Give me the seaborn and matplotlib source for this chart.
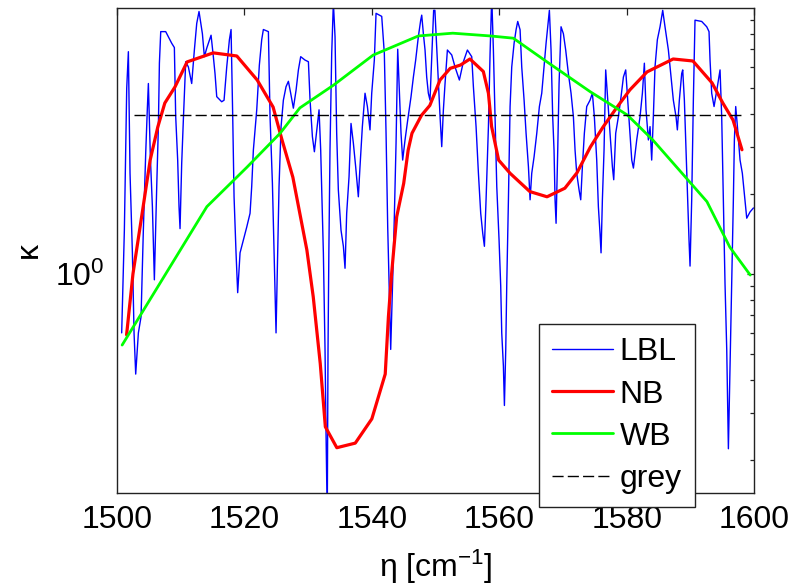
import numpy as np
import pandas as pd
import matplotlib
matplotlib.use("Agg")
import matplotlib.pyplot as plt
import seaborn as sns

# LBL spectrum
lbl_eta = [1500.73, 1501.15, 1501.52, 1501.78, 1502.04, 1502.41, 1502.67, 1502.93, 1503.35, 1503.77,
           1504.13, 1504.50, 1504.76, 1504.92, 1505.23, 1505.55, 1505.86, 1506.23, 1506.49, 1506.65,
           1506.86, 1507.64, 1508.58, 1509.00, 1509.21, 1509.52, 1509.73, 1509.89, 1510.15, 1510.41,
           1510.78, 1511.20, 1511.72, 1512.14, 1512.51, 1512.87, 1513.40, 1513.71, 1514.08, 1514.76,
           1515.12, 1515.38, 1515.65, 1516.43, 1516.80, 1517.22, 1517.64, 1517.90, 1518.16, 1518.37,
           1518.68, 1518.94, 1519.31, 1519.83, 1520.36, 1520.88, 1521.14, 1521.40, 1521.93, 1522.34,
           1522.71, 1522.97, 1523.76, 1524.02, 1524.39, 1524.70, 1524.96, 1525.17, 1525.43, 1525.75,
           1526.11, 1526.53, 1526.90, 1527.26, 1527.68, 1528.10, 1528.47, 1528.83, 1529.51, 1530.04,
           1530.30, 1530.67, 1530.98, 1531.45, 1531.71, 1531.97, 1532.39, 1532.65, 1532.81, 1533.00,
           1533.12, 1533.25, 1533.43, 1533.70, 1533.96, 1534.22, 1534.48, 1534.74, 1535.16, 1535.53,
           1535.79, 1536.05, 1536.42, 1536.73, 1537.10, 1537.46, 1537.88, 1538.14, 1538.51, 1538.93,
           1539.30, 1539.71, 1539.98, 1540.39, 1540.66, 1541.55, 1541.96, 1542.23, 1542.49, 1542.75,
           1542.96, 1543.27, 1543.53, 1543.80, 1544.06, 1544.27, 1544.58, 1544.84, 1545.21, 1545.63,
           1546.15, 1546.52, 1546.88, 1547.30, 1547.67, 1547.83, 1548.09, 1548.35, 1548.61, 1548.87,
           1549.13, 1549.45, 1549.70, 1549.90, 1550.08, 1550.45, 1550.71, 1550.97, 1551.23, 1551.49,
           1551.86, 1552.54, 1553.06, 1553.74, 1554.37, 1555.00, 1555.68, 1555.94, 1556.36, 1556.73,
           1557.09, 1557.41, 1557.67, 1557.93, 1558.30, 1558.56, 1558.82, 1559.08, 1559.34, 1559.61,
           1559.97, 1560.23, 1560.39, 1560.65, 1560.81, 1561.02, 1561.18, 1561.44, 1561.70, 1561.96,
           1562.33, 1562.64, 1562.90, 1563.27, 1563.53, 1563.90, 1564.21, 1564.58, 1564.84, 1565.10,
           1565.47, 1565.89, 1566.30, 1566.67, 1567.03, 1567.35, 1567.61, 1567.87, 1568.13, 1568.39,
           1568.60, 1568.76, 1568.92, 1569.18, 1569.39, 1569.70, 1570.07, 1570.43, 1570.85, 1571.27,
           1571.64, 1571.90, 1572.16, 1572.53, 1572.79, 1573.05, 1573.36, 1573.73, 1574.25, 1574.62,
           1574.93, 1575.30, 1575.56, 1575.82, 1575.98, 1576.19, 1576.45, 1576.71, 1577.03, 1577.39,
           1577.76, 1577.97, 1578.28, 1578.70, 1579.12, 1579.49, 1579.85, 1580.17, 1580.53, 1580.80,
           1581.06, 1581.58, 1582.10, 1582.47, 1582.78, 1583.04, 1583.41, 1583.67, 1583.93, 1584.19,
           1584.45, 1584.82, 1585.24, 1585.66, 1586.02, 1586.55, 1586.91, 1587.33, 1587.75, 1587.96,
           1588.27, 1588.64, 1588.80, 1589.06, 1589.32, 1589.58, 1589.79, 1589.95, 1590.21, 1590.47,
           1590.63, 1590.73, 1591.78, 1592.57, 1592.93, 1593.09, 1593.35, 1593.72, 1594.24, 1594.66,
           1594.92, 1595.18, 1595.44, 1595.71, 1595.97, 1596.23, 1596.49, 1596.75, 1596.91, 1597.12,
           1597.43, 1597.80, 1598.16, 1598.48, 1598.85, 1599.37, 1599.90]
lbl_kappa = [0.60, 1.46, 4.99, 6.85, 2.39, 1.20, 0.60, 0.42, 0.60, 0.69,
             1.46, 2.84, 4.20, 5.20, 2.76, 1.79, 0.95, 2.13, 3.58, 6.20,
             8.15, 8.15, 7.37, 7.10, 3.90, 2.68, 1.79, 1.48, 2.60, 3.79,
             6.28, 6.00, 5.20, 6.95, 8.75, 9.70, 8.00, 6.56, 7.06, 7.90,
             6.56, 5.67, 4.64, 4.44, 4.50, 6.00, 7.60, 8.30, 3.90, 1.95,
             1.20, 0.85, 1.20, 1.34, 1.50, 1.69, 2.13, 2.92, 4.14, 6.10,
             7.60, 8.30, 8.15, 3.90, 2.19, 1.07, 0.60, 1.07, 2.13, 3.58,
             4.50, 5.06, 5.30, 4.78, 4.20, 4.90, 5.85, 6.56, 6.37, 6.28,
             4.50, 3.28, 2.88, 3.63, 4.14, 2.92, 1.20, 0.52, 0.25, 0.12,
             0.52, 1.20, 2.92, 6.75, 10.5, 7.80, 3.38, 2.07, 1.46, 1.27,
             1.05, 1.69, 2.32, 3.68, 3.10, 2.53, 1.95, 2.53, 3.58, 4.78,
             4.26, 3.48, 4.78, 6.37, 9.55, 9.30, 6.75, 3.38, 1.50, 0.85,
             0.52, 0.95, 1.64, 3.10, 7.00, 5.20, 3.38, 2.68, 3.19, 3.79,
             4.64, 5.50, 6.37, 7.80, 9.00, 9.40, 8.00, 6.95, 5.50, 4.78,
             4.50, 7.00, 9.80, 9.80, 8.00, 5.20, 3.90, 3.01, 4.14, 5.20,
             6.95, 6.66, 6.00, 5.36, 6.28, 6.95, 6.56, 5.06, 3.58, 2.39,
             1.69, 1.42, 1.27, 1.90, 3.58, 6.75, 11.0, 6.95, 3.90, 2.13,
             1.34, 0.90, 0.60, 0.45, 0.32, 0.52, 0.92, 1.90, 4.26, 6.00,
             7.37, 8.28, 8.90, 8.28, 6.00, 4.50, 3.38, 2.53, 1.90, 2.39,
             2.76, 3.38, 4.26, 4.78, 6.00, 7.37, 8.50, 9.80, 6.95, 3.90,
             2.92, 1.90, 1.55, 2.92, 5.20, 8.50, 8.00, 6.95, 5.67, 4.78,
             3.90, 2.92, 2.39, 2.07, 1.90, 2.53, 3.38, 4.26, 4.50, 4.78,
             3.90, 2.68, 1.79, 1.42, 1.20, 1.90, 2.92, 5.85, 4.50, 3.38,
             2.53, 2.26, 3.38, 3.90, 4.64, 5.50, 5.85, 4.50, 3.38, 2.68,
             2.50, 3.19, 3.90, 4.78, 6.20, 4.14, 3.19, 3.58, 2.68, 3.90,
             6.00, 7.60, 8.50, 9.80, 8.50, 6.95, 5.67, 4.50, 3.90, 3.48,
             4.50, 5.67, 5.85, 4.50, 2.92, 1.90, 1.34, 1.07, 1.90, 4.50,
             6.95, 9.00, 8.90, 8.50, 8.15, 6.37, 4.78, 4.26, 5.06, 5.85,
             3.90, 1.90, 0.92, 0.52, 0.22, 0.45, 0.92, 1.90, 3.19, 4.26,
             3.48, 2.68, 2.39, 2.00, 1.62, 1.71, 1.77]

# narrow band model
nb_eta = [1501.5, 1502.5, 1504.1, 1505.2, 1506.4, 1507.5, 1509.1, 1511.0, 1515.1, 1518.8,
          1522.0, 1524.5, 1525.9, 1527.6, 1529.8, 1530.8, 1531.9, 1532.7, 1534.5, 1537.4,
          1540.0, 1542.1, 1542.6, 1543.1, 1543.9, 1545.0, 1545.7, 1546.3, 1547.8, 1549.1,
          1550.7, 1552.3, 1553.9, 1555.4, 1557.5, 1558.3, 1558.8, 1559.9, 1561.7, 1564.8,
          1567.5, 1570.3, 1572.2, 1574.3, 1576.3, 1578.5, 1580.5, 1583.2, 1587.3, 1590.4,
          1593.4, 1595.1, 1596.7, 1598.1]
nb_kappa = [0.59, 1.00, 1.79, 2.68, 3.57, 4.39, 5.05, 6.27, 6.78, 6.60,
            5.36, 4.24, 3.19, 2.31, 1.23, 0.82, 0.46, 0.266, 0.222, 0.231,
            0.285, 0.42, 0.69, 1.00, 1.64, 2.19, 2.92, 3.38, 3.95, 4.30,
            5.36, 5.93, 6.10, 6.43, 5.77, 4.78, 3.58, 2.68, 2.39, 2.04,
            1.95, 2.10, 2.40, 3.00, 3.57, 4.24, 4.92, 5.75, 6.43, 6.32,
            5.23, 4.39, 3.79, 2.93]

# wide band model
wb_eta = [1500.8, 1514.1, 1520.4, 1525.6, 1528.7, 1534.0, 1540.2, 1547.3, 1552.7, 1558.6,
          1562.2, 1567.5, 1574.3, 1580.1, 1584.1, 1588.9, 1592.6, 1596.2, 1599.4]
wb_kappa = [0.54, 1.79, 2.52, 3.38, 4.21, 5.13, 6.65, 7.85, 8.04, 7.85,
            7.70, 6.27, 4.84, 3.96, 3.19, 2.36, 1.87, 1.26, 0.99]

# grey gas value
grey_eta = [1502.7, 1598.4]
grey_kappa = [3.95, 3.95]

sns.set_style("white")
plt.rcParams['font.family'] = ['Liberation Sans', 'DejaVu Sans']
plt.rcParams['mathtext.default'] = 'regular'
plt.rcParams['text.color'] = 'black'
plt.rcParams['axes.labelcolor'] = 'black'

fig = plt.figure(figsize=(7.94, 5.88), dpi=100)
ax = fig.add_axes([0.1474, 0.1616, 0.8023, 0.8248])

sns.lineplot(x=lbl_eta, y=lbl_kappa, ax=ax, color='#0000ff', lw=1.0, label='LBL',
             estimator=None, sort=False)
sns.lineplot(x=nb_eta, y=nb_kappa, ax=ax, color='#ff0000', lw=2.3, label='NB',
             estimator=None, sort=False)
sns.lineplot(x=wb_eta, y=wb_kappa, ax=ax, color='#00ff00', lw=2.0, label='WB',
             estimator=None, sort=False)
sns.lineplot(x=grey_eta, y=grey_kappa, ax=ax, color='black', lw=1.0, label='grey',
             estimator=None, sort=False)
ax.lines[-1].set_dashes((8, 3))

ax.set_yscale('log')
ax.set_xlim(1500, 1600)
ax.set_ylim(0.15, 10)
ax.set_xticks([1500, 1520, 1540, 1560, 1580, 1600])
ax.set_yticks([1])
ax.set_yticklabels(['$10^{0}$'])

ax.tick_params(which='both', direction='in', top=True, right=True, colors='#222222',
               labelcolor='black', labelsize=23)
ax.tick_params(which='major', length=5, width=0.9)
ax.tick_params(which='minor', length=3, width=0.9)
ax.tick_params(axis='x', pad=9)
ax.tick_params(axis='y', pad=9)
for s in ax.spines.values():
    s.set_color('#222222')
    s.set_linewidth(1.0)

ax.set_xlabel('η [cm$^{-1}$]', fontsize=23, labelpad=9)
ax.set_ylabel('κ', fontsize=23, labelpad=8)

leg = ax.legend(loc='upper left', bbox_to_anchor=(0.6625, 0.3485), borderaxespad=0,
                fontsize=23, handlelength=1.9, handletextpad=0.2, labelspacing=0.38,
                borderpad=0.42, fancybox=False, framealpha=1, edgecolor='#222222')
leg.get_frame().set_linewidth(1.0)
leg.set_zorder(5)
for t in leg.get_texts():
    t.set_color('black')

fig.savefig('out.png', dpi=100)
